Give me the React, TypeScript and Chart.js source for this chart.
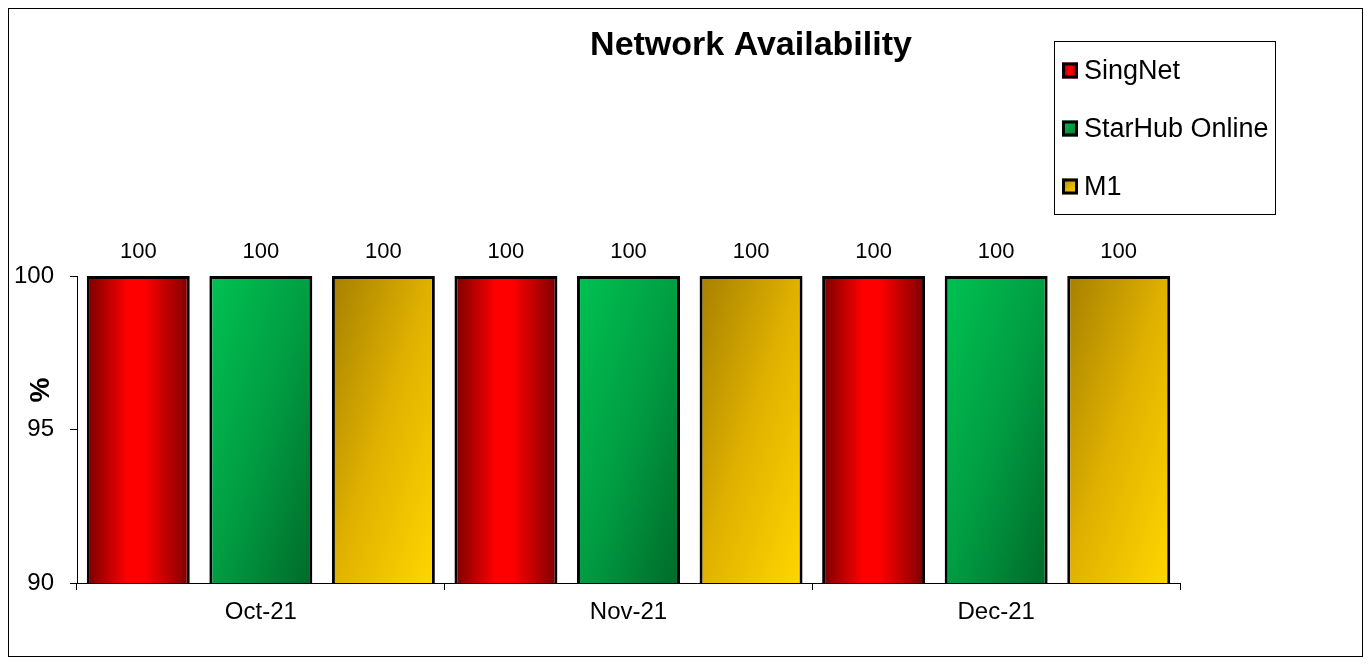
import { useEffect, useRef } from "react";
import { Chart, registerables } from "chart.js";

Chart.register(...registerables);

const categories = ["Oct-21", "Nov-21", "Dec-21"];
const seriesNames = ["SingNet", "StarHub Online", "M1"];
const singNetValues = [100, 100, 100];
const starHubValues = [100, 100, 100];
const m1Values = [100, 100, 100];
const yTickValues = [90, 95, 100];
const chartTitle = "Network Availability";
const yAxisTitle = "%";

const CAT_PCT = 1.0;
const BAR_PCT = 0.84;
const FONT = "'Liberation Sans', Arial, sans-serif";
const fallbackColors = ["#ff0000", "#00a040", "#e6b700"];

function diagonalEnd(l: number, t: number, r: number, b: number) {
  const w = r - l;
  const h = b - t;
  const f = (2 * w * h) / (h * h + w * w || 1);
  return [l + h * f, t + w * f];
}

function makeGradient(
  ctx: CanvasRenderingContext2D,
  idx: number,
  l: number,
  t: number,
  r: number,
  b: number
): CanvasGradient | string {
  if (![l, t, r, b].every((v) => Number.isFinite(v))) return fallbackColors[idx];
  if (idx === 0) {
    const g = ctx.createLinearGradient(l, 0, r, 0);
    g.addColorStop(0, "#780000");
    g.addColorStop(0.4, "#ff0000");
    g.addColorStop(0.56, "#ff0000");
    g.addColorStop(1, "#7c0000");
    return g;
  }
  const [ex, ey] = diagonalEnd(l, t, r, b);
  const g = ctx.createLinearGradient(l, t, ex, ey);
  if (idx === 1) {
    g.addColorStop(0, "#00c252");
    g.addColorStop(0.5, "#009e42");
    g.addColorStop(1, "#006a2a");
    return g;
  }
  g.addColorStop(0, "#a67f00");
  g.addColorStop(0.5, "#e0b200");
  g.addColorStop(1, "#ffd700");
  return g;
}

function barFill(c: any) {
  const chart = c.chart;
  const xs = chart.scales?.x;
  const ys = chart.scales?.y;
  if (!xs || !ys || !chart.chartArea || c.type !== "data") return fallbackColors[c.datasetIndex];
  const n = chart.data.labels.length;
  const nd = chart.data.datasets.length;
  const catW = xs.width / n;
  const size = catW * CAT_PCT;
  const slot = size / nd;
  const center = xs.getPixelForValue(c.dataIndex) - size / 2 + slot * (c.datasetIndex + 0.5);
  const w = slot * BAR_PCT;
  const top = ys.getPixelForValue(c.raw);
  const bottom = ys.getPixelForValue(ys.min);
  return makeGradient(chart.ctx, c.datasetIndex, center - w / 2, top, center + w / 2, bottom);
}

const decorPlugin = {
  id: "decor",
  afterDraw(chart: any) {
    const ctx: CanvasRenderingContext2D = chart.ctx;
    ctx.save();
    // Title
    ctx.fillStyle = "#000";
    ctx.font = `bold 34px ${FONT}`;
    ctx.textAlign = "center";
    ctx.textBaseline = "alphabetic";
    ctx.fillText(chartTitle, 742, 46);

    // Y axis title
    ctx.save();
    ctx.translate(32, 381);
    ctx.rotate(-Math.PI / 2);
    ctx.font = `bold 28px ${FONT}`;
    ctx.textAlign = "center";
    ctx.textBaseline = "middle";
    ctx.fillText(yAxisTitle, 0, 0);
    ctx.restore();

    // Data labels
    ctx.font = `22px ${FONT}`;
    ctx.textAlign = "center";
    ctx.textBaseline = "middle";
    chart.data.datasets.forEach((ds: any, di: number) => {
      const meta = chart.getDatasetMeta(di);
      meta.data.forEach((el: any, i: number) => {
        ctx.fillText(String(ds.data[i]), el.x, el.y - 24);
      });
    });

    // Legend
    const bx = 1045.5, by = 32.5, bw = 221, bh = 173;
    ctx.fillStyle = "#fff";
    ctx.fillRect(bx, by, bw, bh);
    ctx.strokeStyle = "#000";
    ctx.lineWidth = 1;
    ctx.strokeRect(bx, by, bw, bh);
    const rowY = [61.5, 119.5, 177.5];
    ctx.font = `27px ${FONT}`;
    ctx.textAlign = "left";
    ctx.textBaseline = "middle";
    chart.data.datasets.forEach((ds: any, di: number) => {
      const cy = rowY[di];
      const l = 1053, t = cy - 8;
      ctx.fillStyle = makeGradient(ctx, di, l, t, l + 16, t + 16) as any;
      ctx.fillRect(l, t, 16, 16);
      ctx.lineWidth = 3;
      ctx.strokeStyle = "#000";
      ctx.strokeRect(l + 1.5, t + 1.5, 13, 13);
      ctx.fillStyle = "#000";
      ctx.fillText(ds.label, 1075, cy + 1);
    });
    ctx.restore();
  },
};

export default function App() {
  const ref = useRef<HTMLCanvasElement>(null);

  useEffect(() => {
    if (!ref.current) return;
    Chart.defaults.font.family = FONT;
    Chart.defaults.color = "#000";
    const seriesData = [singNetValues, starHubValues, m1Values];
    const chart = new Chart(ref.current, {
      type: "bar",
      data: {
        labels: categories,
        datasets: seriesNames.map((name, i) => ({
          label: name,
          data: seriesData[i],
          backgroundColor: barFill,
          borderColor: "#000",
          borderWidth: 3,
          borderSkipped: false,
          categoryPercentage: CAT_PCT,
          barPercentage: BAR_PCT,
        })),
      },
      options: {
        responsive: false,
        animation: false,
        layout: { padding: { top: 267, left: 0, right: 182, bottom: 0 } },
        plugins: {
          legend: { display: false },
          title: { display: false },
          tooltip: { enabled: false },
        },
        scales: {
          x: {
            offset: true,
            grid: {
              offset: true,
              drawOnChartArea: false,
              drawTicks: true,
              tickLength: 7,
              color: "#000",
              lineWidth: 1,
            },
            border: { display: true, color: "#000", width: 1 },
            ticks: { color: "#000", font: { size: 24, family: FONT }, padding: 8, maxRotation: 0 },
            afterFit: (s: any) => {
              s.height = 73;
            },
          },
          y: {
            min: 90,
            max: 100,
            grid: {
              drawOnChartArea: false,
              drawTicks: true,
              tickLength: 7,
              color: "#000",
              lineWidth: 1,
            },
            border: { display: true, color: "#000", width: 1 },
            ticks: { color: "#000", font: { size: 24, family: FONT }, padding: 16 },
            afterBuildTicks: (s: any) => {
              s.ticks = yTickValues.map((v) => ({ value: v }));
            },
            afterFit: (s: any) => {
              s.width = 68;
            },
          },
        },
      },
      plugins: [decorPlugin],
    });
    return () => chart.destroy();
  }, []);

  return (
    <div
      style={{
        width: 1355,
        height: 649,
        border: "1px solid #000",
        boxSizing: "border-box",
        background: "#fff",
      }}
    >
      <canvas ref={ref} width={1353} height={647} style={{ display: "block" }} />
    </div>
  );
}
